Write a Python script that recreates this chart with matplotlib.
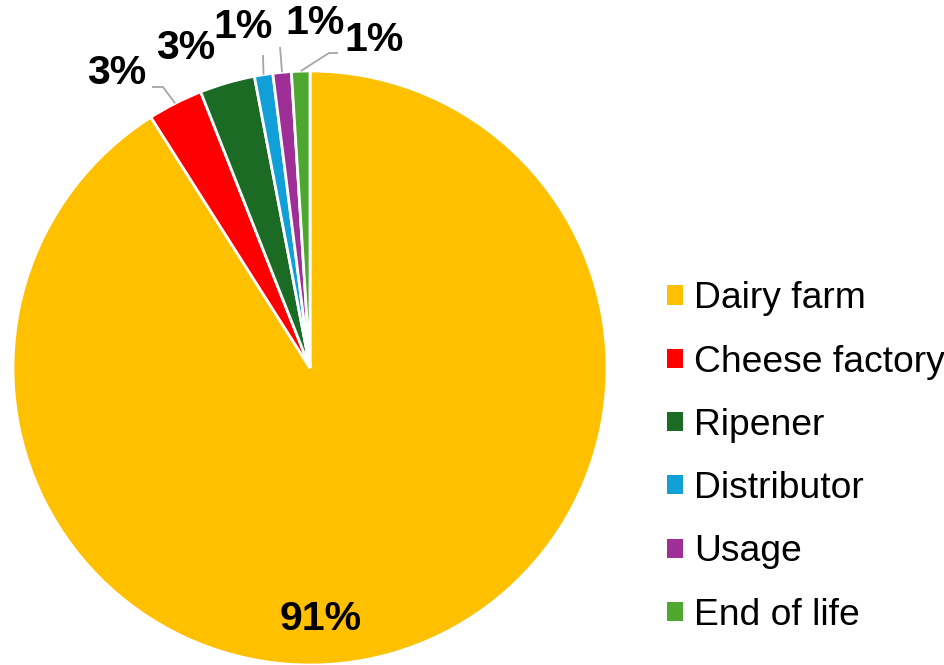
import matplotlib
matplotlib.use("Agg")
import matplotlib.pyplot as plt
import numpy as np
from matplotlib.patches import Patch

categories = ["Dairy farm", "Cheese factory", "Ripener", "Distributor", "Usage", "End of life"]
values = [91, 3, 3, 1, 1, 1]
pct_labels = ["91%", "3%", "3%", "1%", "1%", "1%"]
colors = ["#FFC000", "#FF0000", "#1B6B24", "#119FD8", "#9D2F96", "#4EA72E"]

plt.rcParams['font.family'] = ['Liberation Sans', 'DejaVu Sans']

W, H = 945, 665
fig = plt.figure(figsize=(W / 100, H / 100), dpi=100)
fig.patch.set_facecolor("white")

# pie axes: centre (310,368) px, radius 297 px
cx, cy, R = 310, 368, 297
ax = fig.add_axes([(cx - R) / W, (H - cy - R) / H, 2 * R / W, 2 * R / H])
ax.set_xlim(-1, 1)
ax.set_ylim(-1, 1)
ax.axis("off")

wedges, _ = ax.pie(values, colors=colors, startangle=90, counterclock=False,
                   radius=1.0, center=(0, 0),
                   wedgeprops=dict(edgecolor="white", linewidth=2.0))
ax.set_xlim(-1, 1)
ax.set_ylim(-1, 1)

def px2d(px, py):
    return ((px - cx) / R, (cy - py) / R)

label_pos = [(321, 619), (117, 73), (186, 48), (243, 27), (315, 23), (374, 40)]
leaders = [None,
           [(163, 87), (152, 87)],
           None,
           [(263, 55)],
           [(280, 47)],
           [(329, 53), (338, 53)]]

for w, lab, pos, ld in zip(wedges, pct_labels, label_pos, leaders):
    x, y = px2d(*pos)
    ax.text(x, y, lab, ha="center", va="center", fontsize=29.5, fontweight="bold",
            color="black", clip_on=False)
    if ld is not None:
        mid = np.deg2rad((w.theta1 + w.theta2) / 2)
        pts = [(np.cos(mid) * 1.0, np.sin(mid) * 1.0)] + [px2d(*p) for p in ld]
        xs, ys = zip(*pts)
        ax.plot(xs, ys, color="#A6A6A6", lw=1.3, solid_capstyle="butt",
                zorder=5, clip_on=False)

handles = [Patch(facecolor=c, edgecolor="none") for c in colors]
fig.legend(handles, categories, loc="center left",
           bbox_to_anchor=(667 / W, 1 - 457 / H), frameon=False,
           fontsize=26.8, handlelength=0.42, handleheight=0.42,
           handletextpad=0.3, labelspacing=0.76, borderpad=0, borderaxespad=0)

fig.savefig("out.png", dpi=100, facecolor="white")
